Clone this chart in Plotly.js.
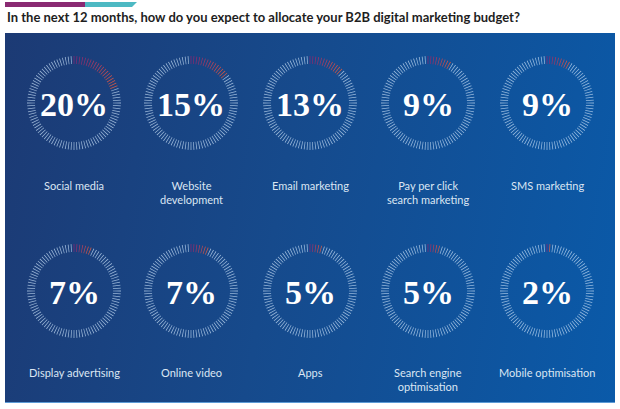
<!DOCTYPE html>
<html>
<head>
<meta charset="utf-8">
<script src="https://cdn.plot.ly/plotly-3.0.1.min.js"></script>
<style>
  html, body { margin: 0; padding: 0; background: #ffffff; }
  #wrap { position: relative; width: 620px; height: 409px; }
  #panel { position: absolute; left: 5px; top: 33px; width: 610px; height: 369px;
           background: linear-gradient(100deg, #1c3a74 0%, #164a8c 45%, #0a5aa9 100%);
           border-bottom: 1px solid #5c9bd6; }
  #chart { position: absolute; left: 0; top: 0; width: 620px; height: 409px; }
</style>
</head>
<body>
<div id="wrap">
  <div id="panel"></div>
  <div id="chart"></div>
</div>
<script>
// ---- data ----
const chartTitle = 'In the next 12 months, how do you expect to allocate your B2B digital marketing budget?';
const categories = ['Social media', 'Website<br>development', 'Email marketing', 'Pay per click<br>search marketing', 'SMS marketing',
                    'Display advertising', 'Online video', 'Apps', 'Search engine<br>optimisation', 'Mobile optimisation'];
const values = [20, 15, 13, 9, 9, 7, 7, 5, 5, 2];
const tickCount = 100;

// ---- layout geometry ----
const W = 620, H = 409;
const colX = [74, 191, 310, 428, 547];
const rowY = [103, 291];
const labelY = [185, 372];
const R = 47, innerR = 39;

function lerp(a, b, t) { return Math.round(a + (b - a) * t); }
function grad(t) {
  const c0 = [128, 38, 116], c1 = [206, 90, 70];
  return 'rgb(' + lerp(c0[0], c1[0], t) + ',' + lerp(c0[1], c1[1], t) + ',' + lerp(c0[2], c1[2], t) + ')';
}

const traces = [];
const layout = {
  width: W, height: H,
  margin: { l: 0, r: 0, t: 0, b: 0 },
  paper_bgcolor: 'rgba(0,0,0,0)',
  plot_bgcolor: 'rgba(0,0,0,0)',
  showlegend: false,
  annotations: [],
  shapes: [
    { type: 'rect', xref: 'paper', yref: 'paper', x0: 5 / W, x1: 85 / W, y0: 1 - 7 / H, y1: 1 - 2 / H,
      fillcolor: '#8a2a72', line: { width: 0 } },
    { type: 'path', xref: 'paper', yref: 'paper',
      path: 'M ' + (85 / W) + ' ' + (1 - 7 / H) + ' L ' + (132 / W) + ' ' + (1 - 7 / H) + ' L ' + (137 / W) + ' ' + (1 - 2 / H) + ' L ' + (85 / W) + ' ' + (1 - 2 / H) + ' Z',
      fillcolor: '#4db9c3', line: { width: 0 } }
  ]
};

layout.annotations.push({
  text: chartTitle, xref: 'paper', yref: 'paper',
  x: 5 / W, y: 1 - 17 / H, xanchor: 'left', yanchor: 'middle', showarrow: false,
  font: { family: 'Lato, Open Sans, sans-serif', size: 13, weight: 700, color: '#1e1e1e' }
});

values.forEach(function (v, k) {
  const col = k % 5, row = Math.floor(k / 5);
  const cx = colX[col], cy = rowY[row];
  const name = k === 0 ? 'polar' : 'polar' + (k + 1);
  const theta = [], r = [], colors = [];
  for (let i = 0; i < tickCount; i++) {
    theta.push(i * 360 / tickCount);
    r.push(R - innerR);
    colors.push(i < v ? grad(v > 1 ? i / (v - 1) : 0) : 'rgba(196,220,244,0.75)');
  }
  traces.push({
    type: 'barpolar', subplot: name, theta: theta, r: r, base: innerR,
    width: 1.0, marker: { color: colors, line: { width: 0 } }, hoverinfo: 'skip'
  });
  layout[name] = {
    domain: { x: [(cx - R) / W, (cx + R) / W], y: [1 - (cy + R) / H, 1 - (cy - R) / H] },
    bgcolor: 'rgba(0,0,0,0)',
    barmode: 'overlay',
    radialaxis: { visible: false, range: [0, R] },
    angularaxis: { visible: false, rotation: 90, direction: 'clockwise' }
  };
  layout.annotations.push({
    text: v + '%', xref: 'paper', yref: 'paper',
    x: cx / W, y: 1 - (cy + 1) / H, xanchor: 'center', yanchor: 'middle', showarrow: false,
    font: { family: 'Liberation Serif, serif', size: 34, weight: 700, color: '#ffffff' }
  });
  layout.annotations.push({
    text: categories[k], xref: 'paper', yref: 'paper',
    x: cx / W, y: 1 - (labelY[row] - 8) / H, xanchor: 'center', yanchor: 'top', showarrow: false,
    align: 'center',
    font: { family: 'Lato, Open Sans, sans-serif', size: 11, color: '#dbe6f3' }
  });
});

Plotly.newPlot('chart', traces, layout, { displayModeBar: false, staticPlot: true });
</script>
</body>
</html>
